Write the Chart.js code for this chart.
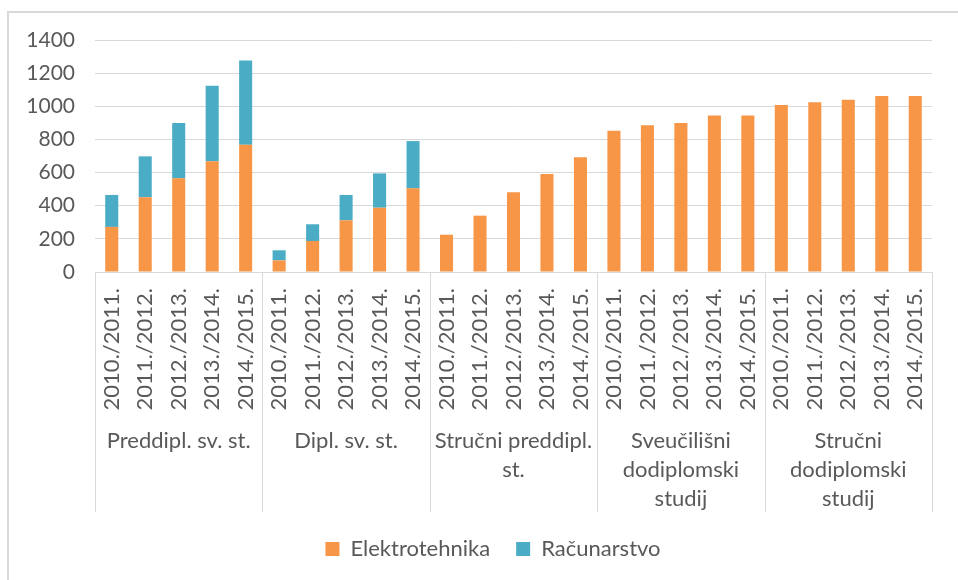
<!DOCTYPE html>
<html>
<head>
<meta charset="utf-8">
<script src="https://cdn.jsdelivr.net/npm/chart.js@4.4.1/dist/chart.umd.min.js"></script>
<style>
  html, body { margin: 0; padding: 0; background: #fff; overflow: hidden; }
  #wrap { position: relative; width: 958px; height: 580px; }
  #frame { position: absolute; left: 7px; top: 11px; width: 980px; height: 600px; border: 2px solid #d9d9d9; box-sizing: border-box; }
  canvas { position: absolute; left: 0; top: 0; }
</style>
</head>
<body>
<div id="wrap">
  <div id="frame"></div>
  <canvas id="chart" width="958" height="580"></canvas>
</div>
<script>
const years = ['2010./2011.', '2011./2012.', '2012./2013.', '2013./2014.', '2014./2015.'];
const groups = [
  ['Preddipl. sv. st.'],
  ['Dipl. sv. st.'],
  ['Stručni preddipl.', 'st.'],
  ['Sveučilišni', 'dodiplomski', 'studij'],
  ['Stručni', 'dodiplomski', 'studij']
];
const elektrotehnika = [272, 451, 565, 668, 768, 70, 187, 312, 388, 505, 225, 340, 481, 591, 692, 853, 885, 899, 945, 945, 1008, 1024, 1040, 1062, 1062];
const racunarstvo = [193, 247, 334, 456, 509, 61, 101, 153, 207, 285, 0, 0, 0, 0, 0, 0, 0, 0, 0, 0, 0, 0, 0, 0, 0];
const yTicks = [0, 200, 400, 600, 800, 1000, 1200, 1400];

const labels = [];
groups.forEach(() => years.forEach(y => labels.push(y)));

const textColor = '#595959';
const lineColor = '#d9d9d9';
const fontFamily = 'Lato, "Open Sans", sans-serif';

// multi-level category axis: group names and separators under the years
const groupAxis = {
  id: 'groupAxis',
  afterLayout(chart) {
    // legend in the reference sits a bit right of the canvas centre
    chart.legend.left += 23;
    chart.legend.right += 23;
  },
  afterDraw(chart) {
    const ctx = chart.ctx;
    const x = chart.scales.x;
    const area = chart.chartArea;
    const bottom = x.bottom;
    const n = years.length;
    ctx.save();
    ctx.strokeStyle = lineColor;
    ctx.lineWidth = 1;
    for (let g = 0; g <= groups.length; g++) {
      let px;
      if (g === 0) px = area.left;
      else if (g === groups.length) px = area.right;
      else px = (x.getPixelForValue(g * n - 1) + x.getPixelForValue(g * n)) / 2;
      px = Math.round(px) + 0.5;
      ctx.beginPath();
      ctx.moveTo(px, area.bottom);
      ctx.lineTo(px, bottom);
      ctx.stroke();
    }
    ctx.beginPath();
    ctx.moveTo(area.left, Math.round(area.bottom) + 0.5);
    ctx.lineTo(area.right, Math.round(area.bottom) + 0.5);
    ctx.stroke();

    ctx.fillStyle = textColor;
    ctx.font = '22px ' + fontFamily;
    ctx.textAlign = 'center';
    ctx.textBaseline = 'middle';
    groups.forEach((lines, g) => {
      const cx = (x.getPixelForValue(g * n) + x.getPixelForValue(g * n + n - 1)) / 2;
      lines.forEach((t, i) => ctx.fillText(t, cx, 441 + i * 29));
    });
    ctx.restore();
  }
};

new Chart(document.getElementById('chart'), {
  type: 'bar',
  data: {
    labels: labels,
    datasets: [
      { label: 'Elektrotehnika', data: elektrotehnika, backgroundColor: '#f79646' },
      { label: 'Računarstvo', data: racunarstvo, backgroundColor: '#4bacc6' }
    ]
  },
  options: {
    responsive: false,
    animation: false,
    layout: { padding: { top: 40, left: 0, right: 18, bottom: 10 } },
    datasets: { bar: { categoryPercentage: 1, barPercentage: 0.39 } },
    plugins: {
      tooltip: { enabled: false },
      legend: {
        position: 'bottom',
        labels: {
          boxWidth: 14, boxHeight: 14, padding: 26,
          color: textColor, font: { family: fontFamily, size: 22 }
        }
      }
    },
    scales: {
      x: {
        stacked: true,
        grid: { display: false, drawTicks: false },
        border: { display: false },
        ticks: {
          autoSkip: false, minRotation: 90, maxRotation: 90, padding: 16,
          color: textColor, font: { family: fontFamily, size: 22 }
        },
        afterFit(scale) { scale.height = 240; }
      },
      y: {
        stacked: true,
        min: 0, max: 1400,
        afterBuildTicks(scale) { scale.ticks = yTicks.map(v => ({ value: v })); },
        grid: { color: lineColor, drawTicks: false },
        border: { display: false },
        ticks: {
          padding: 20, color: textColor, font: { family: fontFamily, size: 21 },
          callback: v => String(v)
        },
        afterFit(scale) { scale.width = 95; }
      }
    }
  },
  plugins: [groupAxis]
});
</script>
</body>
</html>
